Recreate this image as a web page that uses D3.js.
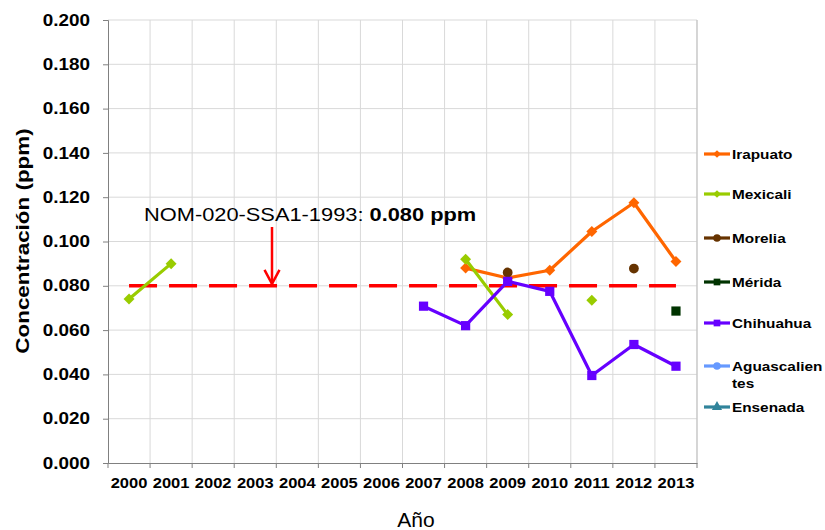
<!DOCTYPE html>
<html><head><meta charset="utf-8">
<script src="https://cdn.jsdelivr.net/npm/d3@7"></script>
<style>body{margin:0;background:#fff;}svg{display:block;font-family:Arial,"Liberation Sans",sans-serif;}</style>
</head><body>
<svg id="c" width="825" height="530"></svg>
<script>
const years = ["2000","2001","2002","2003","2004","2005","2006","2007","2008","2009","2010","2011","2012","2013"];
const yTicks = [0,0.02,0.04,0.06,0.08,0.1,0.12,0.14,0.16,0.18,0.2];
const irapuato = [null,null,null,null,null,null,null,null,0.088,0.0835,0.087,0.1045,0.1175,0.091];
const mexicali = [0.074,0.090,null,null,null,null,null,null,0.092,0.067,null,0.0735,null,null];
const morelia = [null,null,null,null,null,null,null,null,null,0.086,null,null,0.0878,null];
const merida = [null,null,null,null,null,null,null,null,null,null,null,null,null,0.0686];
const chihuahua = [null,null,null,null,null,null,null,0.0708,0.062,0.082,0.0775,0.0395,0.0535,0.0437];
const aguascalientes = years.map(()=>null);
const ensenada = years.map(()=>null);
const seriesNames = ["Irapuato","Mexicali","Morelia","Mérida","Chihuahua","Aguascalientes","Ensenada"];
const seriesValues = [irapuato,mexicali,morelia,merida,chihuahua,aguascalientes,ensenada];
const seriesColors = ["#FF6600","#99CC00","#663300","#003300","#6600FF","#6699FF","#31849B"];
const seriesMarkers = ["diamond","diamond","circle","square","square","circle","triangle"];
const norm = 0.08;

const SX = 1.18; // horizontal stretch of the original's text
const svg = d3.select("#c");
const L=108, R=697, T=20, B=463;
const x = d3.scaleBand().domain(years).range([L,R]);
const y = d3.scaleLinear().domain([0,0.2]).range([B,T]);
const cx = d => x(d)+x.bandwidth()/2;

// grid
const g = svg.append("g");
g.selectAll(".hg").data(yTicks.slice(1)).join("line")
  .attr("x1",L).attr("x2",R).attr("y1",d=>y(d)).attr("y2",d=>y(d))
  .attr("stroke","#d9d9d9").attr("stroke-width",1);
g.selectAll(".vg").data(years.slice(1).concat(["end"])).join("line")
  .attr("x1",(d,i)=>L+(i+1)*x.bandwidth()).attr("x2",(d,i)=>L+(i+1)*x.bandwidth())
  .attr("y1",T).attr("y2",B).attr("stroke","#d9d9d9").attr("stroke-width",1);
svg.append("line").attr("x1",R).attr("x2",R).attr("y1",T).attr("y2",B).attr("stroke","#bfbfbf");

// axes
const ya = svg.append("g").attr("transform",`translate(${L},0)`)
  .call(d3.axisLeft(y).tickValues(yTicks).tickFormat(d3.format(".3f")).tickSize(5).tickPadding(13));
ya.select(".domain").attr("stroke","#808080");
ya.selectAll(".tick line").attr("stroke","#808080");
ya.selectAll("text").attr("font-size",16).attr("font-weight","bold").attr("fill","#000")
  .attr("font-family","Arial,'Liberation Sans',sans-serif")
  .attr("x",-18/SX).attr("transform",`scale(${SX},1)`);

const xa = svg.append("g").attr("transform",`translate(0,${B})`)
  .call(d3.axisBottom(x).tickSizeOuter(0).tickSize(0).tickPadding(15));
xa.select(".domain").attr("stroke","#808080");
xa.selectAll("text").attr("font-size",14).attr("font-weight","bold").attr("fill","#000")
  .attr("font-family","Arial,'Liberation Sans',sans-serif")
  .attr("transform",`scale(${SX},1)`);
svg.append("g").selectAll("line").data(d3.range(years.length+1)).join("line")
  .attr("x1",i=>L+i*x.bandwidth()).attr("x2",i=>L+i*x.bandwidth())
  .attr("y1",B).attr("y2",B+5).attr("stroke","#808080");

// titles
svg.append("text").attr("transform",`translate(29,241) rotate(-90) scale(${SX},1)`).attr("text-anchor","middle")
  .attr("font-size",19).attr("font-weight","bold").text("Concentración (ppm)");
svg.append("text").attr("x",416).attr("y",527).attr("text-anchor","middle")
  .attr("font-size",21).text("Año");

// norm line
svg.append("line").attr("x1",cx(years[0])).attr("x2",cx(years[years.length-1]))
  .attr("y1",y(norm)).attr("y2",y(norm)).attr("stroke","#FF0000").attr("stroke-width",3.5)
  .attr("stroke-dasharray","28,12");

// annotation
const ann = svg.append("text").attr("transform",`translate(144,221) scale(${SX},1)`).attr("font-size",18.5);
ann.append("tspan").text("NOM-020-SSA1-1993: ");
ann.append("tspan").attr("font-weight","bold").text("0.080 ppm");
svg.append("line").attr("x1",272).attr("x2",272).attr("y1",227).attr("y2",y(norm)-2)
  .attr("stroke","#FF0000").attr("stroke-width",2.5);
svg.append("path").attr("d",`M264.5,${y(norm)-16} L272,${y(norm)-2} L279.5,${y(norm)-16}`)
  .attr("fill","none").attr("stroke","#FF0000").attr("stroke-width",2.5);

const line = d3.line().defined(d=>d.v!=null).x(d=>cx(d.k)).y(d=>y(d.v));
function symbolPath(t,size){
  if(t==="diamond") return d3.symbol(d3.symbolSquare,size)();
  return d3.symbol(t==="circle"?d3.symbolCircle:t==="square"?d3.symbolSquare:d3.symbolTriangle,size)();
}
seriesValues.forEach((vals,si)=>{
  const data = years.map((k,i)=>({k,v:vals[i]}));
  svg.append("path").datum(data).attr("d",line).attr("fill","none")
    .attr("stroke",seriesColors[si]).attr("stroke-width",3.2).attr("stroke-linejoin","round");
  const t=seriesMarkers[si];
  const size = t==="diamond"?60:(t==="square"?85:75);
  svg.append("g").selectAll("path").data(data.filter(d=>d.v!=null)).join("path")
    .attr("d",symbolPath(t,size))
    .attr("transform",d=>`translate(${cx(d.k)},${y(d.v)})`+(t==="diamond"?" rotate(45)":""))
    .attr("fill",seriesColors[si]);
});

// legend
const legY = [154,194,238,282,323,366,407];
seriesNames.forEach((n,i)=>{
  const gy = legY[i];
  const lg = svg.append("g");
  lg.append("line").attr("x1",704).attr("x2",730).attr("y1",gy).attr("y2",gy)
    .attr("stroke",seriesColors[i]).attr("stroke-width",3.2);
  const t=seriesMarkers[i];
  lg.append("path").attr("d",symbolPath(t,t==="diamond"?30:45))
    .attr("transform",`translate(717,${gy})`+(t==="diamond"?" rotate(45)":""))
    .attr("fill",seriesColors[i]);
  const tx = lg.append("text").attr("transform",`translate(732,${gy+5}) scale(${SX},1)`)
    .attr("font-size",13).attr("font-weight","bold");
  if(n==="Aguascalientes"){
    tx.append("tspan").attr("x",0).text("Aguascalien");
    tx.append("tspan").attr("x",0).attr("dy",17).text("tes");
  } else tx.text(n);
});
</script>
</body></html>
